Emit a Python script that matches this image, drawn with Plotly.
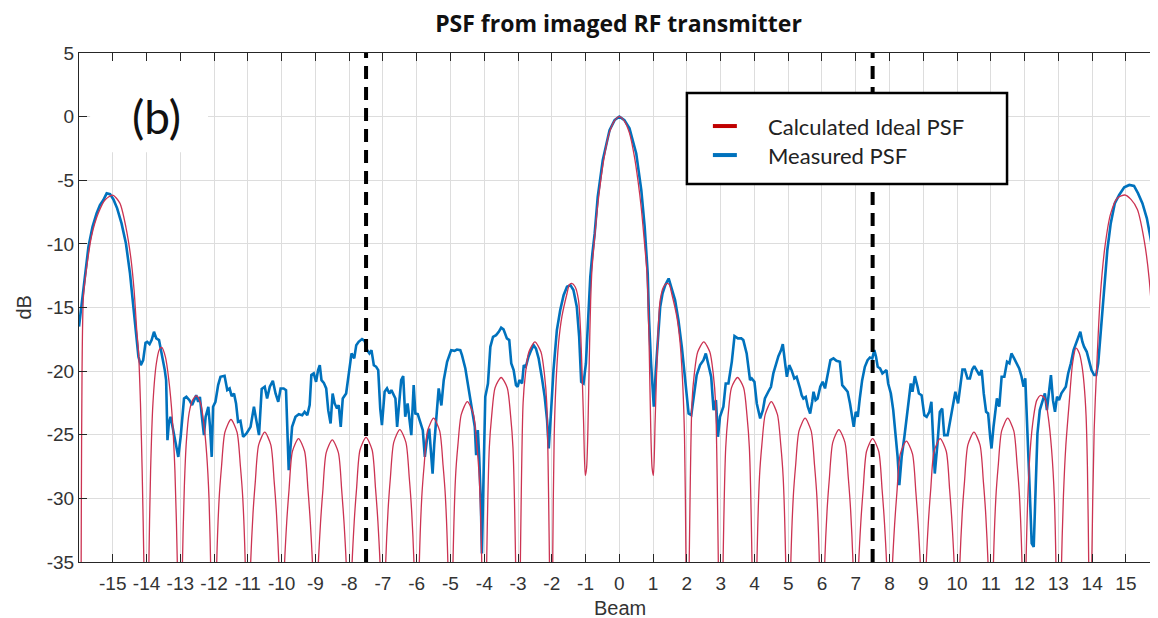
import plotly.graph_objects as go

# ---------------- data ----------------
meas_beam = [
    -16.0, -15.92, -15.82, -15.72, -15.60, -15.48, -15.38, -15.28, -15.18, -15.08,
    -14.98, -14.87, -14.74, -14.61, -14.49, -14.42, -14.32, -14.24, -14.17, -14.10,
    -14.03, -13.98, -13.91, -13.85, -13.78, -13.71, -13.63, -13.58, -13.51, -13.46,
    -13.42, -13.38, -13.34, -13.29, -13.22, -13.06, -12.99, -12.89, -12.82, -12.73,
    -12.65, -12.60, -12.53, -12.47, -12.42, -12.35, -12.30, -12.25, -12.17, -12.12,
    -12.07, -12.03, -11.96, -11.88, -11.81, -11.69, -11.61, -11.54, -11.48, -11.41,
    -11.35, -11.29, -11.22, -11.14, -11.04, -10.92, -10.82, -10.75, -10.67, -10.59,
    -10.50, -10.43, -10.35, -10.26, -10.18, -10.10, -10.03, -9.94, -9.87, -9.79,
    -9.69, -9.59, -9.49, -9.39, -9.32, -9.24, -9.17, -9.12, -9.05, -8.98,
    -8.92, -8.87, -8.82, -8.75, -8.68, -8.62, -8.55, -8.49, -8.43, -8.36,
    -8.31, -8.25, -8.19, -8.09, -8.01, -7.93, -7.85, -7.79, -7.72, -7.62,
    -7.54, -7.47, -7.40, -7.34, -7.27, -7.20, -7.14, -7.08, -7.03, -6.95,
    -6.88, -6.81, -6.75, -6.68, -6.63, -6.58, -6.53, -6.46, -6.40, -6.34,
    -6.27, -6.22, -6.16, -6.09, -6.04, -5.97, -5.89, -5.82, -5.76, -5.70,
    -5.63, -5.58, -5.53, -5.48, -5.40, -5.35, -5.27, -5.20, -5.10, -4.98,
    -4.88, -4.81, -4.71, -4.66, -4.56, -4.46, -4.36, -4.28, -4.24, -4.19,
    -4.15, -4.10, -4.07, -4.02, -3.97, -3.89, -3.82, -3.74, -3.65, -3.57,
    -3.50, -3.43, -3.33, -3.26, -3.20, -3.13, -3.06, -3.01, -2.96, -2.88,
    -2.83, -2.77, -2.69, -2.61, -2.54, -2.47, -2.39, -2.29, -2.21, -2.14,
    -2.09, -2.02, -1.95, -1.85, -1.75, -1.65, -1.55, -1.45, -1.36, -1.26,
    -1.19, -1.13, -1.06, -0.99, -0.93, -0.86, -0.80, -0.73, -0.64, -0.49,
    -0.29, -0.14, 0.0, 0.15, 0.30, 0.50, 0.65, 0.75, 0.84, 0.88,
    0.94, 1.02, 1.08, 1.14, 1.21, 1.28, 1.36, 1.46, 1.55, 1.65,
    1.75, 1.85, 1.95, 2.05, 2.13, 2.20, 2.29, 2.39, 2.49, 2.56,
    2.64, 2.72, 2.79, 2.86, 2.92, 2.98, 3.08, 3.15, 3.23, 3.33,
    3.41, 3.51, 3.61, 3.67, 3.77, 3.87, 3.92, 4.00, 4.07, 4.17,
    4.25, 4.31, 4.41, 4.49, 4.56, 4.63, 4.71, 4.79, 4.84, 4.91,
    4.96, 5.03, 5.10, 5.18, 5.25, 5.35, 5.40, 5.45, 5.52, 5.58,
    5.65, 5.71, 5.75, 5.81, 5.87, 5.95, 6.02, 6.09, 6.17, 6.25,
    6.34, 6.43, 6.53, 6.60, 6.68, 6.76, 6.83, 6.88, 6.94, 7.00,
    7.06, 7.12, 7.19, 7.27, 7.35, 7.42, 7.49, 7.55, 7.60, 7.65,
    7.72, 7.79, 7.84, 7.91, 7.96, 8.04, 8.11, 8.18, 8.24, 8.29,
    8.36, 8.44, 8.51, 8.57, 8.63, 8.68, 8.75, 8.83, 8.87, 8.95,
    9.03, 9.10, 9.18, 9.24, 9.29, 9.34, 9.42, 9.49, 9.56, 9.62,
    9.72, 9.82, 9.90, 9.95, 10.03, 10.10, 10.16, 10.23, 10.31, 10.38,
    10.45, 10.51, 10.58, 10.66, 10.73, 10.79, 10.86, 10.92, 10.98, 11.02,
    11.08, 11.13, 11.18, 11.25, 11.32, 11.40, 11.48, 11.55, 11.61, 11.69,
    11.77, 11.84, 11.91, 11.97, 12.02, 12.07, 12.12, 12.17, 12.21, 12.27,
    12.31, 12.38, 12.45, 12.53, 12.60, 12.66, 12.72, 12.78, 12.84, 12.90,
    12.96, 13.02, 13.09, 13.15, 13.22, 13.29, 13.37, 13.45, 13.52, 13.59,
    13.65, 13.71, 13.76, 13.84, 13.91, 13.98, 14.06, 14.12, 14.18, 14.24,
    14.31, 14.38, 14.45, 14.55, 14.67, 14.80, 14.95, 15.10, 15.24, 15.36,
    15.49, 15.62, 15.74, 15.84, 15.93,
]
meas_db = [
    -16.5, -14.68, -12.32, -10.23, -8.66, -7.61, -6.95, -6.56, -6.03, -6.09,
    -6.51, -7.21, -8.39, -9.97, -12.32, -14.16, -16.78, -18.87, -19.53, -19.14,
    -17.77, -17.70, -17.88, -17.56, -16.91, -17.43, -17.56, -18.22, -19.40, -19.92,
    -20.71, -25.43, -24.11, -23.59, -24.51, -26.74, -25.16, -22.15, -22.02, -22.28,
    -22.67, -22.28, -21.89, -22.41, -22.02, -23.85, -25.03, -23.59, -22.80, -24.38,
    -26.74, -22.80, -22.41, -21.10, -20.45, -20.37, -21.49, -21.36, -21.97, -21.76,
    -22.54, -23.98, -23.90, -25.16, -24.90, -24.38, -22.80, -23.85, -25.03, -21.40,
    -21.23, -22.15, -21.23, -20.76, -21.76, -22.41, -21.36, -21.36, -21.49, -27.78,
    -24.38, -23.59, -23.38, -23.46, -23.20, -23.46, -22.67, -20.31, -20.18, -20.84,
    -19.92, -19.53, -20.71, -20.92, -21.36, -23.07, -24.11, -21.76, -22.54, -22.94,
    -22.67, -24.38, -22.15, -21.76, -20.18, -18.61, -19.00, -17.96, -17.70, -17.48,
    -17.62, -18.35, -18.61, -18.35, -19.53, -19.66, -19.92, -22.94, -24.25, -21.62,
    -21.36, -21.76, -21.49, -21.89, -22.15, -24.38, -22.54, -20.71, -20.39, -23.59,
    -22.54, -23.59, -25.03, -21.10, -23.33, -23.38, -23.98, -24.64, -26.74, -25.43,
    -24.51, -26.21, -28.05, -25.69, -23.07, -21.36, -22.70, -20.71, -19.27, -18.35,
    -18.40, -18.30, -18.35, -18.74, -19.79, -21.49, -23.07, -24.38, -26.60, -24.64,
    -26.74, -30.40, -34.33, -26.74, -22.02, -20.97, -18.09, -17.30, -17.17, -16.91,
    -16.59, -16.72, -17.43, -17.56, -19.40, -19.92, -21.10, -21.23, -20.71, -20.97,
    -19.53, -19.66, -18.87, -18.35, -17.96, -18.22, -19.00, -20.58, -22.02, -23.85,
    -26.08, -23.07, -19.92, -16.78, -15.20, -14.03, -13.37, -13.24, -13.63, -14.94,
    -17.30, -20.84, -20.97, -19.40, -15.99, -12.60, -10.80, -9.18, -6.30, -3.41,
    -1.06, -0.27, 0.0, -0.27, -0.92, -2.89, -5.77, -8.66, -12.32, -15.99,
    -19.40, -22.80, -19.92, -17.30, -14.94, -13.89, -13.24, -12.72, -13.63, -14.42,
    -15.99, -18.09, -20.71, -23.33, -23.46, -22.02, -20.31, -19.53, -19.14, -18.61,
    -19.66, -20.45, -23.07, -22.28, -25.16, -23.59, -22.80, -20.97, -20.97, -19.27,
    -17.25, -17.43, -17.43, -17.56, -18.61, -20.71, -20.58, -20.84, -22.54, -23.72,
    -23.07, -22.15, -21.62, -21.23, -20.18, -19.53, -18.82, -18.35, -17.88, -19.40,
    -20.45, -19.53, -19.92, -20.58, -20.45, -21.36, -21.90, -22.15, -22.02, -22.80,
    -23.33, -22.41, -21.62, -22.28, -22.15, -21.23, -20.84, -21.36, -20.18, -19.14,
    -19.00, -19.19, -19.27, -21.10, -21.36, -21.62, -22.54, -23.33, -24.38, -23.20,
    -23.59, -22.15, -20.71, -19.66, -19.14, -18.93, -19.00, -18.35, -18.87, -19.66,
    -19.79, -20.18, -20.05, -19.92, -20.97, -21.76, -23.07, -24.90, -26.74, -28.96,
    -26.74, -25.16, -23.59, -21.89, -20.97, -21.62, -20.39, -21.23, -21.76, -21.89,
    -23.46, -23.59, -23.20, -22.41, -25.69, -28.05, -25.69, -23.20, -22.94, -25.03,
    -25.03, -23.59, -22.41, -21.62, -22.54, -20.97, -19.87, -19.87, -20.58, -20.58,
    -19.87, -19.60, -19.92, -20.31, -19.92, -21.75, -23.19, -23.32, -25.16, -26.08,
    -24.37, -23.32, -22.15, -22.80, -20.44, -20.44, -19.26, -19.39, -18.61, -19.00,
    -19.39, -19.79, -20.44, -21.23, -20.57, -23.32, -27.26, -30.66, -33.54, -33.81,
    -29.88, -24.90, -23.06, -22.41, -21.75, -23.06, -21.49, -20.31, -22.28, -23.19,
    -22.01, -22.28, -21.75, -21.49, -21.23, -20.18, -19.39, -18.35, -17.82, -17.30,
    -16.90, -17.69, -18.08, -18.48, -19.13, -19.92, -20.31, -20.31, -19.39, -17.30,
    -14.94, -12.58, -10.48, -8.39, -6.82, -6.16, -5.56, -5.37, -5.45, -6.03,
    -6.82, -7.99, -9.70, -11.53, -14.15,
]

calc_beam = [
    -15.96, -15.93, -15.91, -15.87, -15.77, -15.63, -15.43, -15.23, -15.0, -14.79,
    -14.61, -14.47, -14.37, -14.29, -14.24, -14.18, -14.13, -14.08, -14.0,
    -13.93, -13.88, -13.81, -13.71, -13.62, -13.55, -13.44, -13.34, -13.24, -13.16, -13.09, -13.0,
    -12.94, -12.88, -12.82, -12.74, -12.64, -12.52, -12.40, -12.30, -12.22, -12.15, -12.10, -12.0,
    -11.94, -11.85, -11.78, -11.68, -11.5, -11.32, -11.22, -11.15, -11.06, -11.0,
    -10.94, -10.85, -10.78, -10.68, -10.5, -10.32, -10.22, -10.15, -10.06, -10.0,
    -9.94, -9.85, -9.78, -9.68, -9.5, -9.32, -9.22, -9.15, -9.06, -9.0,
    -8.94, -8.85, -8.78, -8.68, -8.5, -8.32, -8.22, -8.15, -8.06, -8.0,
    -7.94, -7.85, -7.78, -7.68, -7.5, -7.32, -7.22, -7.15, -7.06, -7.0,
    -6.94, -6.85, -6.78, -6.68, -6.5, -6.32, -6.22, -6.15, -6.06, -6.0,
    -5.94, -5.85, -5.78, -5.68, -5.5, -5.32, -5.22, -5.15, -5.06, -5.0,
    -4.94, -4.85, -4.78, -4.68, -4.5, -4.32, -4.22, -4.15, -4.06, -4.0,
    -3.94, -3.85, -3.78, -3.68, -3.5, -3.32, -3.22, -3.15, -3.06, -3.0,
    -2.94, -2.85, -2.78, -2.68, -2.5, -2.32, -2.22, -2.15, -2.06, -2.0,
    -1.97, -1.93, -1.88, -1.80, -1.70, -1.55, -1.48, -1.41, -1.31, -1.21, -1.14, -1.06, -1.01,
    -0.97, -0.93, -0.89, -0.85, -0.81, -0.73, -0.65, -0.55, -0.45, -0.30, -0.15, 0.0,
    0.15, 0.30, 0.45, 0.55, 0.65, 0.73, 0.81, 0.85, 0.89, 0.93, 0.97,
    1.01, 1.06, 1.14, 1.21, 1.31, 1.41, 1.48, 1.55, 1.70, 1.80, 1.88, 1.93, 1.97, 2.0,
    2.06, 2.15, 2.22, 2.32, 2.5, 2.68, 2.78, 2.85, 2.94, 3.0,
    3.06, 3.15, 3.22, 3.32, 3.5, 3.68, 3.78, 3.85, 3.94, 4.0,
    4.06, 4.15, 4.22, 4.32, 4.5, 4.68, 4.78, 4.85, 4.94, 5.0,
    5.06, 5.15, 5.22, 5.32, 5.5, 5.68, 5.78, 5.85, 5.94, 6.0,
    6.06, 6.15, 6.22, 6.32, 6.5, 6.68, 6.78, 6.85, 6.94, 7.0,
    7.06, 7.15, 7.22, 7.32, 7.5, 7.68, 7.78, 7.85, 7.94, 8.0,
    8.06, 8.15, 8.22, 8.32, 8.5, 8.68, 8.78, 8.85, 8.94, 9.0,
    9.06, 9.15, 9.22, 9.32, 9.5, 9.68, 9.78, 9.85, 9.94, 10.0,
    10.06, 10.15, 10.22, 10.32, 10.5, 10.68, 10.78, 10.85, 10.94, 11.0,
    11.06, 11.15, 11.22, 11.32, 11.5, 11.68, 11.78, 11.85, 11.94, 12.0,
    12.04, 12.14, 12.24, 12.36, 12.48, 12.60, 12.70, 12.80, 12.88, 12.93, 13.0,
    13.09, 13.15, 13.22, 13.32, 13.42, 13.52, 13.62, 13.70, 13.76, 13.82, 13.86, 13.90, 13.95,
    13.99, 14.06, 14.14, 14.24, 14.38, 14.55, 14.75, 14.97, 15.15, 15.34,
    15.54, 15.69, 15.79, 15.84, 15.88, 15.92,
]
calc_db = [
    -55, -30, -20, -14.2, -11.8, -9.4, -7.6, -6.55, -6.17, -6.8,
    -8.7, -11.0, -13.6, -16.8, -18.4, -22.5, -27.8, -34.9, -55,
    -34.9, -27.8, -22.5, -19.4, -18.3, -18.14, -18.9, -20.7, -23.6, -27.8, -34.9, -55,
    -35.5, -29.0, -25.5, -23.3, -22.3, -21.95, -22.5, -24.2, -26.5, -30.0, -35.5, -55,
    -37, -30.0, -27.5, -24.8, -23.8, -24.8, -27.5, -30.0, -37, -55,
    -37, -31.3, -28.7, -25.8, -24.8, -25.8, -28.7, -31.3, -37, -55,
    -37, -31.9, -29.3, -26.3, -25.3, -26.3, -29.3, -31.9, -37, -55,
    -37, -32.0, -29.4, -26.4, -25.4, -26.4, -29.4, -32.0, -37, -55,
    -37, -31.8, -29.2, -26.2, -25.2, -26.2, -29.2, -31.8, -37, -55,
    -37, -31.0, -28.4, -25.6, -24.6, -25.6, -28.4, -31.0, -37, -55,
    -37, -29.9, -27.4, -24.7, -23.7, -24.7, -27.4, -29.9, -37, -55,
    -37, -28.3, -25.8, -23.4, -22.4, -23.4, -25.8, -28.3, -37, -55,
    -37, -26.0, -23.5, -21.3, -20.5, -21.3, -23.5, -26.0, -37, -55,
    -37, -22.5, -20.2, -18.5, -17.7, -18.5, -20.2, -22.5, -37, -55,
    -34.0, -25.2, -21.2, -17.8, -15.7, -13.9, -13.2, -13.1, -13.37, -14.4, -17.3, -23.9, -28.2,
    -27.6, -24.5, -19.0, -14.5, -12.0, -9.5, -7.2, -5.0, -3.2, -1.3, -0.35, 0.0,
    -0.35, -1.3, -3.2, -5.0, -7.2, -9.5, -12.0, -14.5, -19.0, -24.5, -27.6,
    -28.2, -23.9, -17.3, -14.4, -13.37, -13.1, -13.2, -13.9, -15.7, -17.8, -21.2, -25.2, -34.0, -55,
    -37, -22.5, -20.2, -18.5, -17.7, -18.5, -20.2, -22.5, -37, -55,
    -37, -26.0, -23.5, -21.3, -20.5, -21.3, -23.5, -26.0, -37, -55,
    -37, -28.3, -25.8, -23.4, -22.4, -23.4, -25.8, -28.3, -37, -55,
    -37, -29.9, -27.4, -24.7, -23.7, -24.7, -27.4, -29.9, -37, -55,
    -37, -31.0, -28.4, -25.6, -24.6, -25.6, -28.4, -31.0, -37, -55,
    -37, -31.9, -29.3, -26.3, -25.3, -26.3, -29.3, -31.9, -37, -55,
    -37, -32.1, -29.5, -26.5, -25.5, -26.5, -29.5, -32.1, -37, -55,
    -37, -31.9, -29.3, -26.3, -25.3, -26.3, -29.3, -31.9, -37, -55,
    -37, -31.3, -28.7, -25.8, -24.8, -25.8, -28.7, -31.3, -37, -55,
    -37, -29.9, -27.4, -24.7, -23.7, -24.7, -27.4, -29.9, -37, -55,
    -35.5, -27.3, -24.1, -22.3, -21.9, -22.15, -23.6, -26.2, -29.9, -35.5, -55,
    -35.5, -29.8, -25.9, -22.5, -19.4, -18.2, -18.6, -19.6, -21.0, -23.5, -27.5, -35.5, -55,
    -35, -24.6, -19.4, -14.15, -10.2, -7.6, -6.4, -6.16, -6.5, -7.3,
    -9.7, -12.8, -16.8, -22.0, -34.0, -55,
]

x_tick_vals = list(range(-15, 16))
x_tick_text = [str(v) for v in x_tick_vals]
y_tick_vals = [5, 0, -5, -10, -15, -20, -25, -30, -35]
y_tick_text = [str(v) for v in y_tick_vals]

marker_beams = [-7.5, 7.5]
legend_labels = ["Calculated Ideal PSF", "Measured PSF"]
legend_colors = ["#c00000", "#0072bd"]

AXIS = "#262626"
GRID = "#dddddd"
ARIAL = "Liberation Sans, Arial, sans-serif"
TICKFONT = dict(family=ARIAL, size=19, color="#333333")

# The page puts the figure 8 px in from the window's top-left corner,
# so the figure is sized / laid out in page pixels minus that offset.
OFF = 8
W, H = 1158 - OFF, 618 - OFF
L, R, T, B = 79 - OFF, 0, 53 - OFF, 56
PW, PH = W - L - R, H - T - B

fig = go.Figure()
fig.add_trace(go.Scatter(
    x=meas_beam, y=meas_db, mode="lines", name=legend_labels[1],
    line=dict(color="#0072bd", width=2.6), showlegend=False, hoverinfo="x+y"))
fig.add_trace(go.Scatter(
    x=calc_beam, y=calc_db, mode="lines", name=legend_labels[0],
    line=dict(color="#cc3352", width=1.3, shape="spline", smoothing=0.7),
    showlegend=False, hoverinfo="x+y"))

shapes = []
# white patch behind the panel label
shapes.append(dict(type="rect", xref="x", yref="y", x0=-15.67, x1=-12.18, y0=-2.8, y1=5,
                   fillcolor="white", line=dict(width=0), layer="between"))
# dashed markers
for b in marker_beams:
    shapes.append(dict(type="line", xref="x", yref="y", x0=b, x1=b, y0=-35, y1=5,
                       line=dict(color="black", width=4, dash="13px,8px"), layer="above"))
# legend box
shapes.append(dict(type="rect", xref="x", yref="y", x0=2.0, x1=11.48, y0=-5.3, y1=1.85,
                   fillcolor="white", line=dict(color="black", width=2.5), layer="above"))
for i, col in enumerate(legend_colors):
    yy = [-0.74, -3.02][i]
    shapes.append(dict(type="line", xref="x", yref="y", x0=2.77, x1=3.48, y0=yy, y1=yy,
                       line=dict(color=col, width=4), layer="above"))

annotations = []
for i, lab in enumerate(legend_labels):
    yy = [-0.74, -3.02][i]
    annotations.append(dict(x=4.34, y=yy, xref="x", yref="y", text=lab, showarrow=False,
                            xanchor="left", yanchor="middle",
                            font=dict(family="Lato, Open Sans, sans-serif", size=22, color="#222222")))
annotations.append(dict(x=-13.72, y=0.0, xref="x", yref="y", text="(b)", showarrow=False,
                        xanchor="center", yanchor="middle",
                        font=dict(family="Lato, Open Sans, sans-serif", size=46, color="#111111")))
# axis titles (positions given in window pixels, converted to paper fractions)
annotations.append(dict(x=(620 - OFF - L) / PW, y=-(608 - OFF - (H - B)) / PH,
                        xref="paper", yref="paper",
                        text="Beam", showarrow=False, xanchor="center", yanchor="middle",
                        font=dict(family=ARIAL, size=20, color="#333333")))
annotations.append(dict(x=(23 - OFF - L) / PW, y=0.5, xref="paper", yref="paper",
                        text="dB", showarrow=False, xanchor="center", yanchor="middle",
                        textangle=-90, font=dict(family=ARIAL, size=20, color="#333333")))

fig.update_layout(
    width=W, height=H, autosize=False,
    margin=dict(l=L, r=R, t=T, b=B, autoexpand=False),
    paper_bgcolor="white", plot_bgcolor="white",
    title=dict(text="<b>PSF from imaged RF transmitter</b>", xref="paper", x=0.5, xanchor="center",
               yref="container", y=1 - (24 - OFF) / H, yanchor="middle",
               font=dict(family="Open Sans, sans-serif", size=23, color="#111111")),
    shapes=shapes, annotations=annotations, showlegend=False,
)
fig.update_xaxes(
    range=[-16, 15.95], tickmode="array", tickvals=x_tick_vals, ticktext=x_tick_text,
    showgrid=True, gridcolor=GRID, gridwidth=1, zeroline=False, automargin=False,
    showline=True, linecolor=AXIS, linewidth=1, mirror="ticks",
    ticks="inside", ticklen=8, tickcolor=AXIS, tickfont=TICKFONT, ticklabelstandoff=4,
)
fig.update_yaxes(
    range=[-35, 5], tickmode="array", tickvals=y_tick_vals, ticktext=y_tick_text,
    showgrid=True, gridcolor=GRID, gridwidth=1, zeroline=False, automargin=False,
    showline=True, linecolor=AXIS, linewidth=1, mirror="ticks",
    ticks="inside", ticklen=8, tickcolor=AXIS, tickfont=TICKFONT,
)

fig.write_html("out.html")
